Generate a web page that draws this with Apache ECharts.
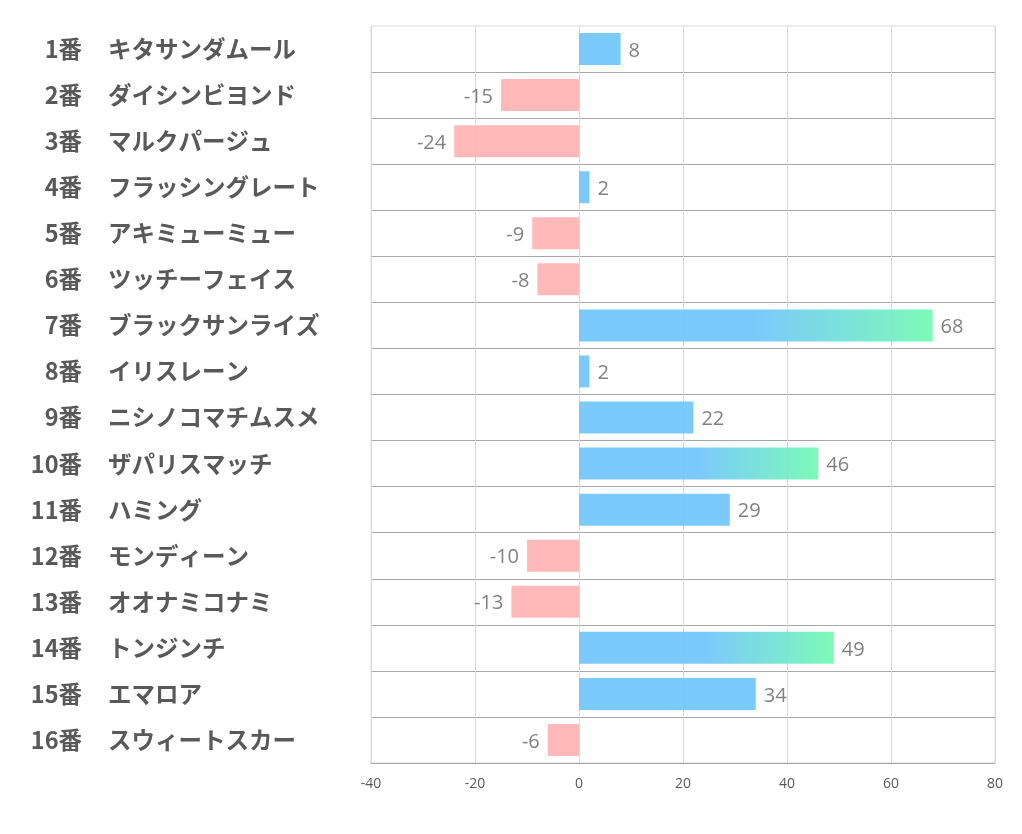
<!DOCTYPE html>
<html><head><meta charset="utf-8">
<script src="https://cdn.jsdelivr.net/npm/echarts@6/dist/echarts.min.js"></script>
<style>html,body{margin:0;padding:0;background:#fff}#c{width:1022px;height:834px}</style>
</head><body><div id="c"></div>
<script>
const numbers = ['1番','2番','3番','4番','5番','6番','7番','8番','9番','10番','11番','12番','13番','14番','15番','16番'];
const names = ['キタサンダムール','ダイシンビヨンド','マルクパージュ','フラッシングレート','アキミューミュー','ツッチーフェイス','ブラックサンライズ','イリスレーン','ニシノコマチムスメ','ザパリスマッチ','ハミング','モンディーン','オオナミコナミ','トンジンチ','エマロア','スウィートスカー'];
const values = [8,-15,-24,2,-9,-8,68,2,22,46,29,-10,-13,49,34,-6];
const xTicks = {min:-40, max:80, interval:20};

const BLUE = '#6dc4fc', PINK = '#ffb1b1', GREEN = '#6ffab1';
const chart = echarts.init(document.getElementById('c'));
const data = values.map(v=>{
  let color;
  if (v < 0) color = PINK;
  else if (v > 40) color = new echarts.graphic.LinearGradient(0,0,1,0,[{offset:0,color:BLUE},{offset:0.5,color:BLUE},{offset:1,color:GREEN}]);
  else color = BLUE;
  return {value:v, itemStyle:{color:color}, label:{position: v<0?'left':'right'}};
});
const labelFont = {fontSize:23.5,fontWeight:'bold',color:'#595959',fontFamily:'Noto Sans CJK JP',padding:[0,0,4,0]};
chart.setOption({
  animation:false,
  grid:{left:371,right:27,top:26,bottom:71,show:true,borderColor:'#d9d9d9',borderWidth:1,containLabel:false},
  xAxis:{type:'value',min:xTicks.min,max:xTicks.max,interval:xTicks.interval,
    axisLine:{show:true,lineStyle:{color:'#a6a6a6'}},axisTick:{show:false},
    axisLabel:{color:'#595959',fontSize:14,margin:14,fontFamily:'Open Sans'},
    splitLine:{show:true,lineStyle:{color:'#d9d9d9'}}},
  yAxis:[
    {type:'category',inverse:true,data:numbers,position:'left',
      axisLine:{show:false},axisTick:{show:false},
      splitLine:{show:true,showMinLine:false,lineStyle:{color:'#a6a6a6'}},
      axisLabel:Object.assign({margin:289,align:'right'},labelFont)},
    {type:'category',inverse:true,data:names,position:'left',offset:0,
      axisLine:{show:false},axisTick:{show:false},splitLine:{show:false},
      axisLabel:Object.assign({margin:263,align:'left'},labelFont)}
  ],
  series:[{type:'bar',yAxisIndex:0,data:data,barWidth:32,itemStyle:{opacity:0.9},
    label:{show:true,color:'#737373',fontSize:20,distance:8,offset:[0,2],fontFamily:'Open Sans'}}]
});
</script></body></html>
